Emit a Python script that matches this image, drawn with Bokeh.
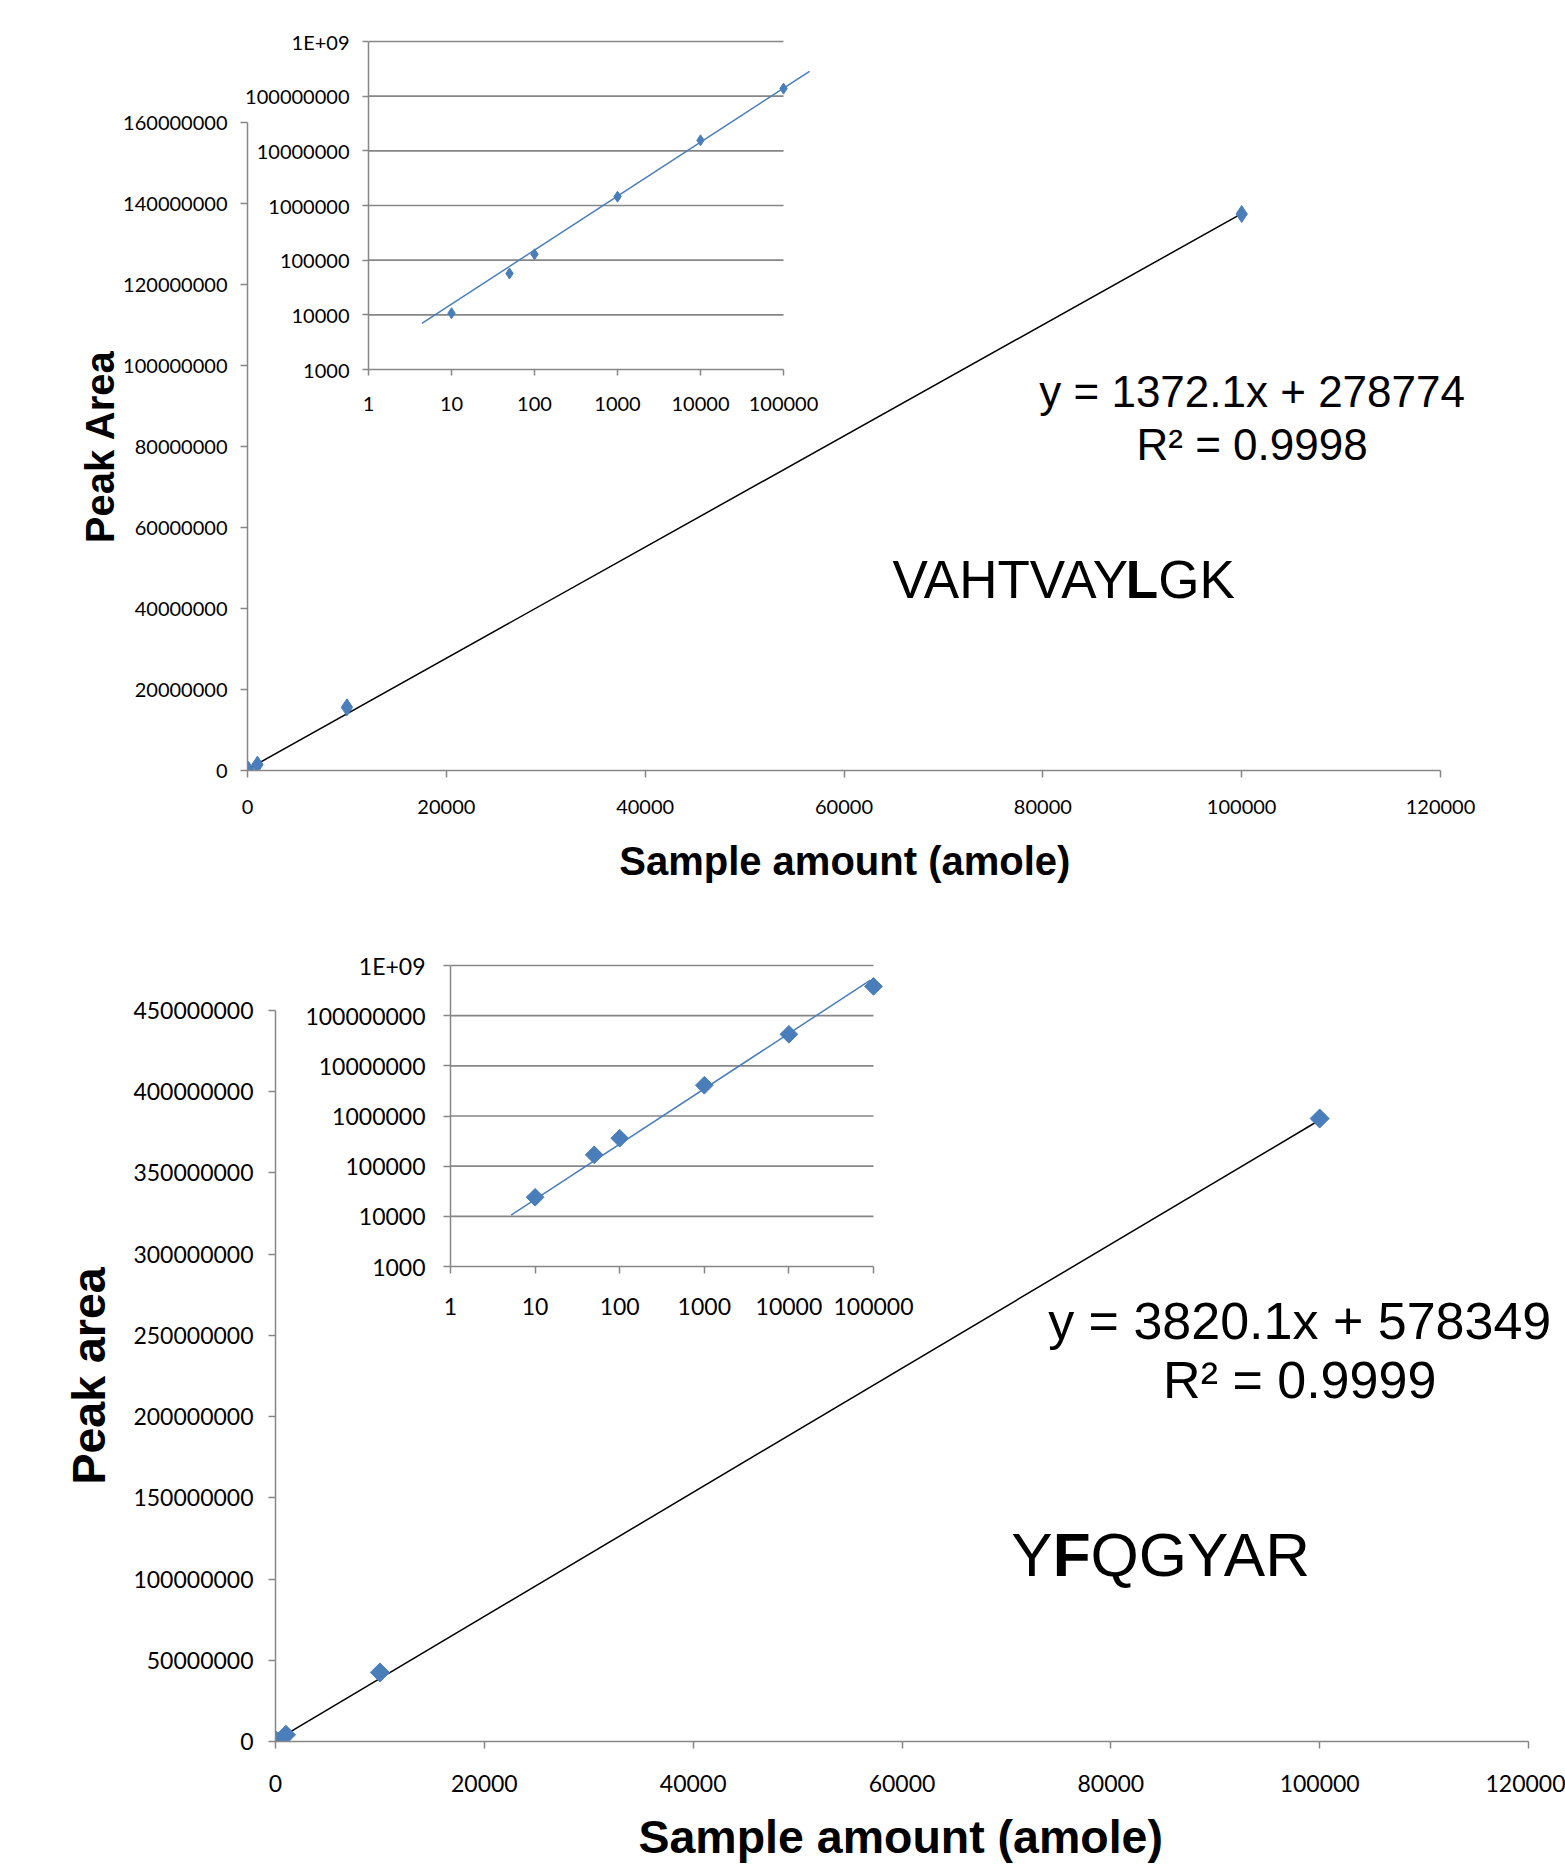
from bokeh.plotting import figure
from bokeh.models import Range1d, FixedTicker, Label, BasicTickFormatter
from bokeh.layouts import column
from bokeh.embed import file_html
from bokeh.resources import INLINE
import numpy as np

# ---------------- data ----------------
amount = [10, 50, 100, 1000, 10000, 100000]                                  # amole
area_vahtvaylgk = [10700, 57000, 128000, 1450000, 15600000, 137400000]       # top peptide
area_yfqgyar = [24000, 168000, 360000, 4100000, 42500000, 383500000]         # bottom peptide

fit_top = (1372.1, 278774)      # slope, intercept shown on chart
fit_bot = (3820.1, 578349)
eq_top = ["y = 1372.1x + 278774", "R\u00b2 = 0.9998"]
eq_bot = ["y = 3820.1x + 578349", "R\u00b2 = 0.9999"]

# power trendlines of the log-log insets (end points)
trend_top_x = [4.4, 206000]
trend_top_y = [7000, 285000000]
trend_bot_x = [5.2, 92000]
trend_bot_y = [10600, 510000000]

main_x_ticks = [0, 20000, 40000, 60000, 80000, 100000, 120000]
top_y_ticks = [0, 20000000, 40000000, 60000000, 80000000, 100000000,
               120000000, 140000000, 160000000]
bot_y_ticks = [0, 50000000, 100000000, 150000000, 200000000, 250000000,
               300000000, 350000000, 400000000, 450000000]
inset_x_ticks = [1, 10, 100, 1000, 10000, 100000]
inset_x_labels = ["1", "10", "100", "1000", "10000", "100000"]
inset_y_ticks = [1000, 10000, 100000, 1000000, 10000000, 100000000, 1000000000]
inset_y_labels = ["1000", "10000", "100000", "1000000", "10000000", "100000000", "1E+09"]
x_title = "Sample amount (amole)"

# ---------------- style ----------------
GREY = "#868686"
BLUE = "#4A7EBB"
TICK_FONT = "Lato"
TITLE_FONT = "Liberation Sans"
B_LEFT = 240      # common left border for all figures of the column
B_RIGHT = 5


def style_axis(ax, size, standoff, tick_out):
    ax.axis_line_color = GREY
    ax.axis_line_width = 1.5
    ax.major_tick_line_color = GREY
    ax.major_tick_line_width = 1.5
    ax.major_tick_out = tick_out
    ax.major_tick_in = 0
    ax.minor_tick_line_color = None
    ax.major_label_text_font = TICK_FONT
    ax.major_label_text_font_size = size
    ax.major_label_text_color = "black"
    ax.major_label_standoff = standoff


def make_main(yt, xpx, ypx, fw, bt, total_h, tick_size, x_std, y_std,
              title_size, ylabel, yt_std):
    sx = main_x_ticks[-1] / xpx
    p = figure(x_range=Range1d(0, fw * sx),
               y_range=Range1d(0, yt[-1]),
               frame_width=fw, frame_height=ypx,
               min_border_left=B_LEFT, min_border_right=B_RIGHT,
               min_border_top=bt, min_border_bottom=total_h - bt - ypx,
               output_backend="svg", toolbar_location=None)
    p.outline_line_color = None
    p.xgrid.visible = False
    p.ygrid.visible = False
    xa = p.xaxis[0]
    ya = p.yaxis[0]
    style_axis(xa, tick_size, x_std, 7)
    style_axis(ya, tick_size, y_std, 7)
    xa.ticker = FixedTicker(ticks=main_x_ticks)
    ya.ticker = FixedTicker(ticks=yt)
    xa.formatter = BasicTickFormatter(use_scientific=False)
    ya.formatter = BasicTickFormatter(use_scientific=False)
    xa.bounds = (main_x_ticks[0], main_x_ticks[-1])
    ya.bounds = (yt[0], yt[-1])
    ya.axis_label = ylabel
    ya.axis_label_text_font = TITLE_FONT
    ya.axis_label_text_font_style = "bold"
    ya.axis_label_text_font_size = title_size
    ya.axis_label_text_color = "black"
    ya.axis_label_standoff = yt_std
    return p


def make_inset(x_ppd, y_ppd, fw, fh, bt, bb, tick_size, x_std, y_std, tick_out):
    x_end = 10 ** (fw / x_ppd)
    y_end = 10 ** (3 + fh / y_ppd)
    p = figure(x_axis_type="log", y_axis_type="log",
               x_range=Range1d(inset_x_ticks[0], x_end),
               y_range=Range1d(inset_y_ticks[0], y_end),
               frame_width=fw, frame_height=fh,
               min_border_left=B_LEFT, min_border_right=B_RIGHT,
               min_border_top=bt, min_border_bottom=bb,
               background_fill_color=None, border_fill_color=None,
               output_backend="svg", toolbar_location=None)
    p.outline_line_color = None
    p.xgrid.visible = False
    p.ygrid.visible = False
    xa = p.xaxis[0]
    ya = p.yaxis[0]
    style_axis(xa, tick_size, x_std, tick_out)
    style_axis(ya, tick_size, y_std, tick_out)
    xa.ticker = FixedTicker(ticks=inset_x_ticks)
    ya.ticker = FixedTicker(ticks=inset_y_ticks)
    xa.major_label_overrides = {int(t): s for t, s in zip(inset_x_ticks, inset_x_labels)}
    ya.major_label_overrides = {int(t): s for t, s in zip(inset_y_ticks, inset_y_labels)}
    xa.bounds = (inset_x_ticks[0], inset_x_ticks[-1])
    ya.bounds = (inset_y_ticks[0], inset_y_ticks[-1])
    gy = inset_y_ticks[1:]
    p.segment(x0=[inset_x_ticks[0]] * len(gy), y0=gy,
              x1=[inset_x_ticks[-1]] * len(gy), y1=gy,
              line_color=GREY, line_width=1.6)
    return p


def make_title_overlay(fw, fh, cx, cy, size):
    """Transparent strip carrying the x-axis title (cx, cy in strip pixels)."""
    o = figure(x_range=Range1d(0, fw), y_range=Range1d(0, fh),
               frame_width=fw, frame_height=fh,
               min_border_left=B_LEFT, min_border_right=B_RIGHT,
               min_border_top=0, min_border_bottom=0,
               x_axis_location=None, y_axis_location=None,
               background_fill_color=None, border_fill_color=None,
               output_backend="svg", toolbar_location=None)
    o.outline_line_color = None
    o.xgrid.visible = False
    o.ygrid.visible = False
    o.add_layout(Label(x=cx, y=cy, text=x_title, text_font=TITLE_FONT,
                       text_font_size=size, text_font_style="bold",
                       text_align="center", text_baseline="alphabetic",
                       text_color="black"))
    return o


def add_labels(p, eq, eq_x, eq_y, size, name_parts, name_x, name_y, name_size, offsets):
    for line, yy in zip(eq, eq_y):
        p.add_layout(Label(x=eq_x, y=yy, text=line, text_font=TITLE_FONT,
                           text_font_size=size, text_align="center",
                           text_baseline="alphabetic", text_color="black"))
    for (txt, style), off in zip(name_parts, offsets):
        p.add_layout(Label(x=name_x, y=name_y, x_offset=off, text=txt, text_font=TITLE_FONT,
                           text_font_size=name_size, text_font_style=style,
                           text_align="left", text_baseline="alphabetic", text_color="black"))


# ---------------- top chart ----------------
H1, H2 = 900, 965
STRIP_L = 245                # page x of the title strips' frame
STRIP_W = 1315

p1 = make_main(top_y_ticks, 1193, 648, 1313, 122, H1, "20px", 22, 13, "40px",
               "Peak Area", -2)
p1.line([0, amount[-1]], [fit_top[1], fit_top[0] * amount[-1] + fit_top[1]],
        line_color="black", line_width=1.5)
p1.scatter(amount, area_vahtvaylgk, marker="diamond", size=17,
           fill_color=BLUE, line_color=BLUE)
add_labels(p1, eq_top, 101050, [93.51e6, 80.59e6], "44px",
           [("VAHTVAY", "normal"), ("L", "bold"), ("GK", "normal")],
           64868, 47.14e6, "53px", [0, 233.4, 265.8])
p1.margin = (0, 0, 0, 7)

i1 = make_inset(83, 328 / 6, 455, 330, 20, 60, "20px", 21, 13, 6)
i1.line(trend_top_x, trend_top_y, line_color=BLUE, line_width=1.5)
i1.scatter(amount, area_vahtvaylgk, marker="diamond", size=11,
           fill_color=BLUE, line_color=BLUE)
i1.margin = (19 - H1, 0, H1 - (19 + 410), 128)

# x-axis title strip of the top chart: page y 800..900
o1 = make_title_overlay(STRIP_W, 100, 844.3 - STRIP_L, 900 - 860, "40px")
o1.margin = (800 - H1, 0, 0, STRIP_L - B_LEFT)

# ---------------- bottom chart ----------------
p2 = make_main(bot_y_ticks, 1253, 731, 1285, 110, H2, "23px", 26, 15, "46.5px",
               "Peak area", 15)
p2.line([0, amount[-1]], [fit_bot[1], fit_bot[0] * amount[-1] + fit_bot[1]],
        line_color="black", line_width=1.5)
p2.scatter(amount, area_yfqgyar, marker="square", angle=np.pi / 4, size=13.5,
           fill_color=BLUE, line_color=BLUE)
add_labels(p2, eq_bot, 98089, [259.10e6, 222.54e6], "52px",
           [("Y", "normal"), ("F", "bold"), ("QGYAR", "normal")],
           70467, 114.87e6, "62px", [0, 41.4, 79.3])
p2.margin = (0, 0, 0, 35)

top2 = H1 + H2
i2 = make_inset(84.6, 301 / 6, 490, 303, 20, 65, "23px", 24, 18, 7)
i2.line(trend_bot_x, trend_bot_y, line_color=BLUE, line_width=1.5)
i2.scatter(amount, area_yfqgyar, marker="square", angle=np.pi / 4, size=12.5,
           fill_color=BLUE, line_color=BLUE)
i2.margin = (943 - top2, 0, top2 - (943 + 388), 210)

# x-axis title strip of the bottom chart: page y 1790..1865
o2 = make_title_overlay(STRIP_W, 75, 900.2 - STRIP_L, top2 - 1836, "46.5px")
o2.margin = (1790 - top2, 0, 0, STRIP_L - B_LEFT)

p = column(p1, i1, o1, p2, i2, o2)
open("out.html", "w").write(file_html(p, INLINE))
